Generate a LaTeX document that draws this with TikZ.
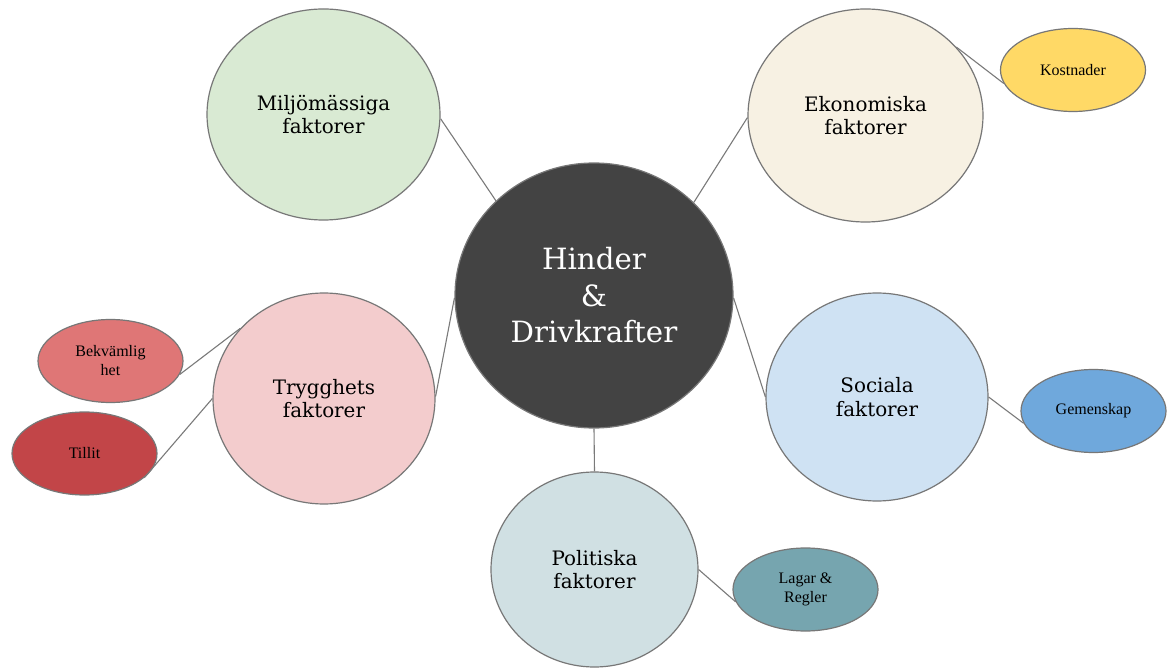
\documentclass[tikz,border=0pt]{standalone}
\usepackage{fontspec}
\setmainfont{Liberation Serif}
\newfontfamily\bigfont{DejaVu Serif}
\usetikzlibrary{shapes.geometric}
\definecolor{edgegray}{HTML}{777777}
\definecolor{linegray}{HTML}{7A7A7A}
\definecolor{hubc}{HTML}{434343}
\definecolor{miljoc}{HTML}{D9EAD3}
\definecolor{ekoc}{HTML}{F7F1E3}
\definecolor{kostc}{HTML}{FFD966}
\definecolor{trygc}{HTML}{F3CCCD}
\definecolor{bekvc}{HTML}{DF7676}
\definecolor{tillc}{HTML}{C24548}
\definecolor{socc}{HTML}{CFE2F3}
\definecolor{gemc}{HTML}{6FA8DC}
\definecolor{polc}{HTML}{D0E0E3}
\definecolor{lagc}{HTML}{76A5AF}
\begin{document}
\begin{tikzpicture}[x=1pt,y=-1pt,
  bub/.style={ellipse,draw=edgegray,line width=1.2pt,inner sep=0pt,align=center},
  mainbub/.style={bub,font=\bigfont\fontsize{19.9}{23.5}\selectfont},
  subbub/.style={bub,minimum width=145pt,minimum height=83pt,font=\fontsize{16}{19}\selectfont},
  conn/.style={draw=linegray,line width=1.1pt}]
\useasboundingbox (0,0) rectangle (1168,668);
\fill[white] (0,0) rectangle (1168,668);
\node[bub,fill=hubc,minimum width=278pt,minimum height=265pt,text=white,
      font=\bigfont\fontsize{29.3}{36.5}\selectfont] (hub) at (594,295.5) {Hinder\\\&\\Drivkrafter};
\node[mainbub,fill=miljoc,minimum width=233pt,minimum height=211pt] (miljo) at (323.5,114.5) {Miljömässiga\\faktorer};
\node[mainbub,fill=ekoc,minimum width=235pt,minimum height=213pt] (eko) at (865.5,115.5) {Ekonomiska\\faktorer};
\node[mainbub,fill=trygc,minimum width=222pt,minimum height=211pt] (tryg) at (324,398.5) {Trygghets\\faktorer};
\node[mainbub,fill=socc,minimum width=222pt,minimum height=208pt] (soc) at (877,397) {Sociala\\faktorer};
\node[mainbub,fill=polc,minimum width=207pt,minimum height=195pt] (pol) at (594.5,569.5) {Politiska\\faktorer};
\node[subbub,fill=kostc] (kost) at (1073,70) {Kostnader};
\node[subbub,fill=bekvc] (bekv) at (110.5,361) {Bekvämlig\\het};
\node[subbub,fill=tillc] (till) at (84.5,453.5) {Tillit};
\node[subbub,fill=gemc] (gem) at (1093.5,411) {Gemenskap};
\node[subbub,fill=lagc] (lag) at (805.5,589.5) {Lagar \&\\Regler};
\draw[conn] (miljo.-2) -- (hub.136);
\draw[conn] (eko.181) -- (hub.43);
\draw[conn] (tryg.1) -- (hub.181);
\draw[conn] (soc.180) -- (hub.-1);
\draw[conn] (pol.90) -- (hub.270);
\draw[conn] (eko.37) -- (kost.191);
\draw[conn] (tryg.140) -- (bekv.-11);
\draw[conn] (tryg.180) -- (till.-22);
\draw[conn] (soc.0) -- (gem.190);
\draw[conn] (pol.0) -- (lag.190);
\end{tikzpicture}
\end{document}
